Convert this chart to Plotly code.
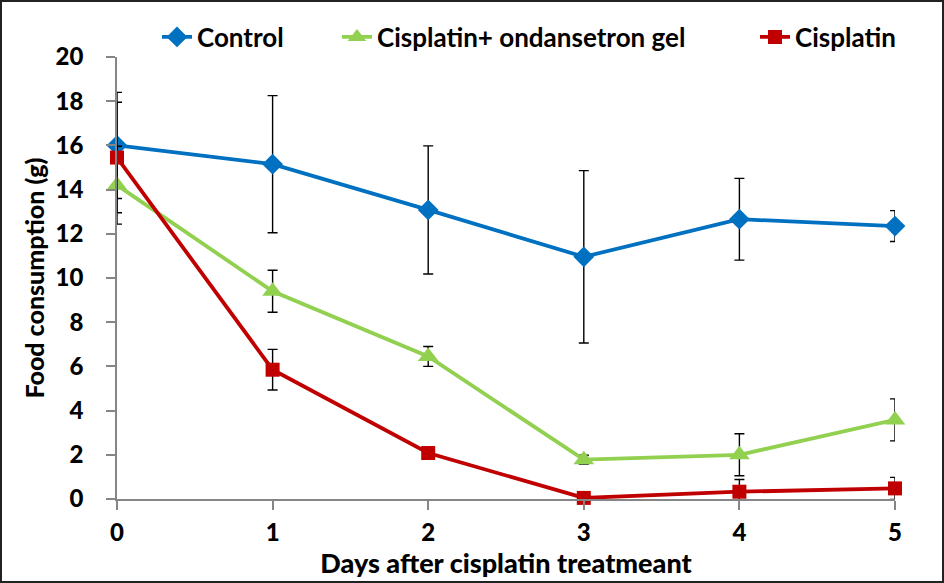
import plotly.graph_objects as go

days = [0, 1, 2, 3, 4, 5]
tick_labels = ["0", "1", "2", "3", "4", "5"]

control = [16.0, 15.15, 13.08, 10.96, 12.66, 12.35]
control_err = [2.4, 3.1, 2.9, 3.9, 1.85, 0.7]

gel = [14.2, 9.4, 6.45, 1.78, 2.0, 3.58]
gel_err = [1.76, 0.95, 0.45, 0.2, 0.95, 0.95]

cis = [15.45, 5.85, 2.08, 0.05, 0.33, 0.48]
cis_err = [2.5, 0.92, 0.2, 0.1, 0.55, 0.5]

W, H = 944, 583
L, R, T, B = 117, 49, 57, 84
pw, ph = W - L - R, H - T - B

FONT = "Lato"

fig = go.Figure()

def add(name, y, err, color, symbol, size, legend):
    fig.add_trace(go.Scatter(
        x=days, y=y, name=name, mode="lines+markers",
        line=dict(color=color, width=3.8),
        marker=dict(symbol=symbol, size=size, color=color),
        error_y=dict(type="data", array=err, visible=True, color="black",
                     thickness=1.4, width=5),
        cliponaxis=False, legend=legend, showlegend=True,
    ))

add("Control", control, control_err, "#0070C0", "diamond", 16, "legend")
add("Cisplatin+ ondansetron gel", gel, gel_err, "#92D050", "triangle-up", 18, "legend2")
add("Cisplatin", cis, cis_err, "#C00000", "square", 14, "legend3")

def leg(px):
    return dict(x=(px - L) / pw, y=1 + 20 / ph, xanchor="left", yanchor="middle",
                orientation="h", bgcolor="rgba(0,0,0,0)", visible=True,
                font=dict(family=FONT, size=26, color="black", weight="bold"))

fig.update_layout(
    width=W, height=H, showlegend=True,
    margin=dict(l=L, r=R, t=T, b=B),
    paper_bgcolor="white", plot_bgcolor="white",
    font=dict(family=FONT, color="black"),
    legend=leg(157), legend2=leg(337), legend3=leg(755),
    xaxis=dict(
        range=[0, 5], tickmode="array", tickvals=days, ticktext=tick_labels,
        showline=True, linecolor="#868686", linewidth=1.5,
        ticks="outside", ticklen=9, tickcolor="#868686", tickwidth=1.5,
        showgrid=False, zeroline=False, ticklabelstandoff=2,
        tickfont=dict(family=FONT, size=24, color="black", weight=900),
        title=dict(text="Days after cisplatin treatmeant",
                   font=dict(family=FONT, size=27, color="black", weight=900), standoff=0),
    ),
    yaxis=dict(
        range=[0, 20], tickmode="linear", tick0=0, dtick=2,
        showline=True, linecolor="#868686", linewidth=1.5,
        ticks="outside", ticklen=9, tickcolor="#868686", tickwidth=1.5,
        showgrid=False, zeroline=False, ticklabelstandoff=18,
        tickfont=dict(family=FONT, size=24, color="black", weight=900),
        title=dict(text="Food consumption (g)",
                   font=dict(family=FONT, size=25, color="black", weight=900), standoff=4),
    ),
    shapes=[dict(type="rect", xref="paper", yref="paper",
                 x0=(1 - L) / pw, x1=(W - L - 1) / pw,
                 y0=-(B - 1) / ph, y1=(H - B - 1) / ph,
                 line=dict(color="#222", width=2), layer="below")],
)

fig.write_html("out.html", config={"displayModeBar": False},
               post_script="document.body.style.margin='0';document.body.style.overflow='hidden';")
